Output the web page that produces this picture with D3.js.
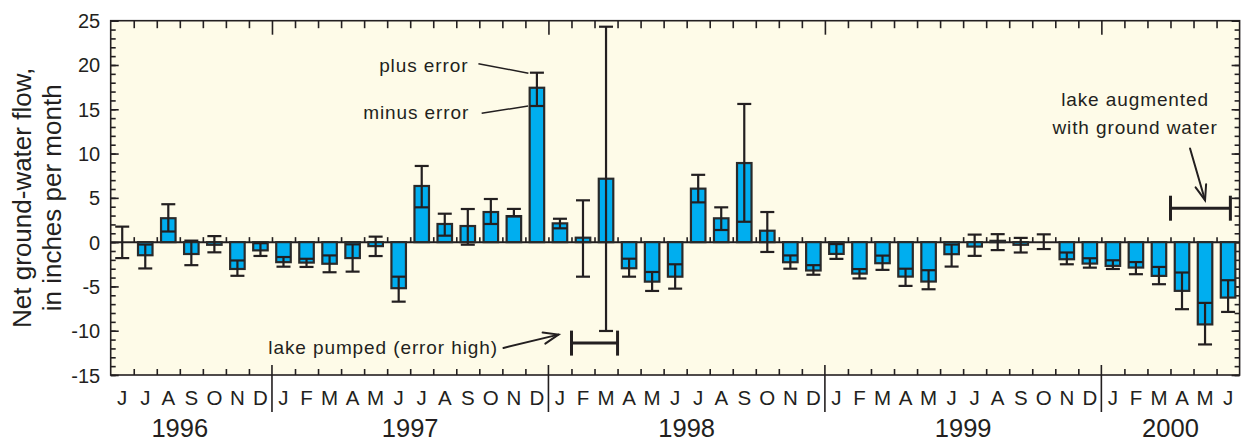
<!DOCTYPE html>
<html>
<head>
<meta charset="utf-8">
<script src="https://cdn.jsdelivr.net/npm/d3@7"></script>
<style>
  html, body { margin: 0; padding: 0; background: #ffffff; }
  svg { display: block; font-family: "Liberation Sans", Arial, Helvetica, sans-serif; }
</style>
</head>
<body>
<svg id="chart" width="1246" height="441"></svg>
<script>
// Monthly record, June 1996 through June 2000
const monthLabels = ["J","J","A","S","O","N","D",
  "J","F","M","A","M","J","J","A","S","O","N","D",
  "J","F","M","A","M","J","J","A","S","O","N","D",
  "J","F","M","A","M","J","J","A","S","O","N","D",
  "J","F","M","A","M","J"];
const years = ["1996", "1997", "1998", "1999", "2000"];
const monthsPerYear = [7, 12, 12, 12, 6];

// Net ground-water flow, inches per month
const flow = [0, -1.48, 2.70, -1.34, -0.30, -3.03, -0.93,
  -2.26, -2.31, -2.44, -1.80, -0.45, -5.20, 6.34, 2.05, 1.82, 3.40, 2.94, 17.43,
  2.12, 0.50, 7.16, -2.95, -4.46, -3.90, 6.04, 2.69, 8.93, 1.29, -2.27, -3.20,
  -1.33, -3.55, -2.38, -3.89, -4.45, -1.36, -0.50, 0.15, -0.30, 0, -1.93, -2.42,
  -2.68, -2.87, -3.81, -5.50, -9.29, -6.26];
// lower ("minus") and upper ("plus") error limits
const errLow = [-1.80, -2.97, 1.20, -2.60, -1.15, -3.80, -1.56,
  -2.77, -2.80, -3.40, -3.33, -1.57, -6.72, 3.93, 0.73, -0.29, 2.05, 2.90, 15.37,
  1.56, -3.90, -10.03, -3.90, -5.51, -5.25, 4.49, 1.37, 2.30, -1.11, -3.00, -3.68,
  -1.89, -4.10, -3.13, -4.94, -5.32, -2.76, -1.55, -0.90, -1.17, -0.78, -2.50, -2.88,
  -3.03, -3.62, -4.75, -7.57, -11.55, -7.88];
const errHigh = [1.75, -0.27, 4.28, 0.17, 0.68, -2.07, -0.12,
  -1.68, -1.88, -1.50, -0.25, 0.62, -3.90, 8.60, 3.21, 3.74, 4.87, 3.75, 19.13,
  2.64, 4.72, 24.32, -1.87, -3.37, -2.50, 7.60, 3.93, 15.60, 3.40, -1.50, -2.60,
  -0.22, -3.04, -1.52, -3.00, -3.17, -0.27, 0.85, 0.90, 0.48, 0.88, -1.17, -1.82,
  -2.05, -2.25, -2.80, -3.43, -6.86, -4.30];

const yTicks = [25, 20, 15, 10, 5, 0, -5, -10, -15];

// Periods marked on the chart (month index ranges and the level they sit at)
const pumpedSpan = [20, 22], pumpedLevel = -11.4;       // Feb–Mar 1998
const augmentedSpan = [46, 48.6], augmentedLevel = 3.83; // Apr–Jun 2000

// ---- layout ----
const ink = "#231f20";
const x0 = 110.7, x1 = 1239.6, yTop = 20.7, yBot = 375;
const n = flow.length;

const svg = d3.select("#chart");

const xm = d3.scaleLinear().domain([0, n]).range([x0, x1]);           // month boundaries
const xb = d3.scaleBand().domain(d3.range(n)).range([x0, x1])
  .paddingInner(0.37).paddingOuter(0.185);                             // bars
const y = d3.scaleLinear().domain([-15, 25]).range([yBot, yTop]);

// year start indices derived from month counts
const yearStart = [];
monthsPerYear.reduce((acc, m) => { yearStart.push(acc); return acc + m; }, 0);
const yearBounds = yearStart.slice(1);
const monthBounds = d3.range(1, n).filter(k => !yearBounds.includes(k));

// plot background
svg.append("rect")
  .attr("x", x0).attr("y", yTop)
  .attr("width", x1 - x0).attr("height", yBot - yTop)
  .attr("fill", "#fefbe8");

function styleAxis(g, size) {
  g.select(".domain").remove();
  g.selectAll(".tick line").attr("stroke", ink).attr("stroke-width", 1.6);
  g.selectAll(".tick text").attr("fill", ink).attr("font-size", size || 20);
}

// left axis: labelled majors + minor ticks
svg.append("g").attr("transform", `translate(${x0},0)`)
  .call(d3.axisLeft(y).tickValues(d3.range(-15, 26)).tickSize(-5).tickFormat(""))
  .call(styleAxis);
svg.append("g").attr("transform", `translate(${x0},0)`)
  .call(d3.axisLeft(y).tickValues(yTicks).tickSize(-8).tickPadding(10.5)
    .tickFormat(d => String(d)))
  .call(g => styleAxis(g, 20))
  .call(g => g.selectAll(".tick text").attr("dy", "0.35em"));

// right axis: ticks only
svg.append("g").attr("transform", `translate(${x1},0)`)
  .call(d3.axisRight(y).tickValues(d3.range(-15, 26)).tickSize(-5).tickFormat(""))
  .call(styleAxis);
svg.append("g").attr("transform", `translate(${x1},0)`)
  .call(d3.axisRight(y).tickValues(yTicks).tickSize(-8).tickFormat(""))
  .call(styleAxis);

// top ticks
svg.append("g").attr("transform", `translate(0,${yTop})`)
  .call(d3.axisTop(xm).tickValues(monthBounds).tickSize(-7.5).tickFormat(""))
  .call(styleAxis);
svg.append("g").attr("transform", `translate(0,${yTop})`)
  .call(d3.axisTop(xm).tickValues(yearBounds).tickSize(-14).tickFormat(""))
  .call(styleAxis);

// bottom ticks
svg.append("g").attr("transform", `translate(0,${yBot})`)
  .call(d3.axisBottom(xm).tickValues(monthBounds).tickSize(-6).tickFormat(""))
  .call(styleAxis);
// year separators crossing the bottom edge
svg.append("g").selectAll("line").data(yearBounds).join("line")
  .attr("x1", d => xm(d)).attr("x2", d => xm(d))
  .attr("y1", yBot - 10).attr("y2", yBot + 37)
  .attr("stroke", ink).attr("stroke-width", 1.6);

// month letters
svg.append("g").attr("transform", `translate(0,${yBot})`)
  .call(d3.axisBottom(xb).tickSize(0).tickPadding(15.5).tickFormat(i => monthLabels[i]))
  .call(g => styleAxis(g, 20.5));

// year labels, centred under each year's months (first, partial year nudged left)
svg.append("g").selectAll("text").data(years).join("text")
  .attr("x", (d, i) => {
    const s = yearStart[i], e = s + monthsPerYear[i];
    return xm((s + e) / 2 + (i === 0 ? -0.5 : 0));
  })
  .attr("y", 436.5)
  .attr("text-anchor", "middle")
  .attr("font-size", 25.5)
  .attr("fill", ink)
  .text(d => d);

// zero line with small upward ticks at month boundaries
svg.append("line")
  .attr("x1", x0).attr("x2", x1).attr("y1", y(0)).attr("y2", y(0))
  .attr("stroke", ink).attr("stroke-width", 2);
svg.append("g").attr("transform", `translate(0,${y(0)})`)
  .call(d3.axisTop(xm).tickValues(d3.range(1, n)).tickSize(5).tickFormat(""))
  .call(styleAxis);

// bars
const bw = xb.bandwidth();
svg.append("g").selectAll("rect")
  .data(flow.map((v, i) => ({ v, i })).filter(d => d.v !== 0))
  .join("rect")
  .attr("x", d => xb(d.i))
  .attr("y", d => y(Math.max(0, d.v)))
  .attr("width", bw)
  .attr("height", d => Math.abs(y(d.v) - y(0)))
  .attr("fill", "#00aeef")
  .attr("stroke", "#2a2a2a")
  .attr("stroke-width", 2.2);

// error bars
const capW = 14;
const eg = svg.append("g").attr("stroke", ink).attr("stroke-width", 2.2);
flow.forEach((v, i) => {
  const cx = xb(i) + bw / 2;
  eg.append("line").attr("x1", cx).attr("x2", cx)
    .attr("y1", y(errLow[i])).attr("y2", y(errHigh[i]));
  [errLow[i], errHigh[i]].forEach(e => {
    eg.append("line").attr("x1", cx - capW / 2).attr("x2", cx + capW / 2)
      .attr("y1", y(e)).attr("y2", y(e));
  });
});

// plot frame
svg.append("rect")
  .attr("x", x0).attr("y", yTop)
  .attr("width", x1 - x0).attr("height", yBot - yTop)
  .attr("fill", "none").attr("stroke", ink).attr("stroke-width", 1.6);

// y-axis title
const title = svg.append("text")
  .attr("transform", `translate(0,${(yTop + yBot) / 2}) rotate(-90)`)
  .attr("text-anchor", "middle")
  .attr("font-size", 26)
  .attr("fill", ink);
title.append("tspan").attr("x", 0).attr("y", 30.5).text("Net ground-water flow,");
title.append("tspan").attr("x", 0).attr("y", 61).text("in inches per month");

// ---- annotations ----
const note = svg.append("g").attr("fill", ink).attr("font-size", 19)
  .attr("letter-spacing", "0.9px");

function arrow(p0, p1, len, ang) {
  const g = svg.append("g").attr("stroke", ink).attr("stroke-width", 2)
    .attr("fill", "none").attr("stroke-linecap", "round");
  g.append("line").attr("x1", p0[0]).attr("y1", p0[1]).attr("x2", p1[0]).attr("y2", p1[1]);
  const a = Math.atan2(p0[1] - p1[1], p0[0] - p1[0]);
  const r = ang * Math.PI / 180;
  g.append("polyline").attr("points", [
    [p1[0] + len * Math.cos(a + r), p1[1] + len * Math.sin(a + r)],
    p1,
    [p1[0] + len * Math.cos(a - r), p1[1] + len * Math.sin(a - r)]
  ].map(p => p.join(",")).join(" "));
}

function bracket(span, level) {
  const g = svg.append("g").attr("stroke", ink).attr("stroke-width", 3);
  const xa = xm(span[0]), xz = xm(span[1]), yy = y(level);
  g.append("line").attr("x1", xa).attr("x2", xz).attr("y1", yy).attr("y2", yy);
  [xa, xz].forEach(xx => g.append("line")
    .attr("x1", xx).attr("x2", xx).attr("y1", yy - 12.5).attr("y2", yy + 12.5));
}

// plus / minus error callouts on the December 1997 bar
const decIdx = 18;
const decX = xb(decIdx) + bw / 2;
const plusPt = [decX - capW / 2 - 1.5, y(errHigh[decIdx]) + 0.5];
const minusPt = [decX - bw / 2 - 1.5, y(errLow[decIdx])];
svg.append("line").attr("x1", plusPt[0] - 50).attr("y1", plusPt[1] - 9.5)
  .attr("x2", plusPt[0]).attr("y2", plusPt[1]).attr("stroke", ink).attr("stroke-width", 1.5);
svg.append("line").attr("x1", minusPt[0] - 46.5).attr("y1", minusPt[1] + 7.3)
  .attr("x2", minusPt[0]).attr("y2", minusPt[1]).attr("stroke", ink).attr("stroke-width", 1.5);
note.append("text").attr("x", plusPt[0] - 60).attr("y", plusPt[1] - 1)
  .attr("text-anchor", "end").text("plus error");
note.append("text").attr("x", minusPt[0] - 59).attr("y", minusPt[1] + 13.5)
  .attr("text-anchor", "end").text("minus error");

// lake pumped period
bracket(pumpedSpan, pumpedLevel);
const pumpTip = [xm(pumpedSpan[0]) - 13, y(pumpedLevel) - 8.5];
arrow([pumpTip[0] - 55, pumpTip[1] + 13.3], pumpTip, 16, 21);
note.append("text").attr("x", pumpTip[0] - 60.5).attr("y", pumpTip[1] + 19)
  .attr("text-anchor", "end").text("lake pumped (error high)");

// lake augmented period
bracket(augmentedSpan, augmentedLevel);
const augTip = [xm(47.5), y(augmentedLevel) - 8];
arrow([augTip[0] - 15, augTip[1] - 51.7], augTip, 16, 20);
const augText = note.append("text").attr("text-anchor", "middle");
augText.append("tspan").attr("x", augTip[0] - 70).attr("y", 106).text("lake augmented");
augText.append("tspan").attr("x", augTip[0] - 70).attr("y", 134).text("with ground water");
</script>
</body>
</html>
